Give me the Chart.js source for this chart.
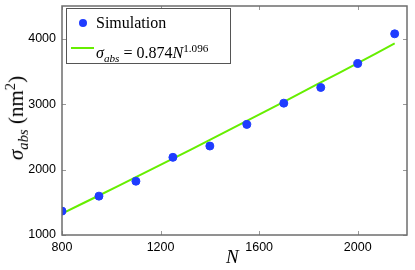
<!DOCTYPE html>
<html>
<head>
<meta charset="utf-8">
<script src="https://cdn.jsdelivr.net/npm/chart.js@4/dist/chart.umd.min.js"></script>
<style>
  body { margin: 0; background: #fff; }
  #wrap { position: relative; width: 415px; height: 270px; }
  #chart { position: absolute; left: 0; top: 0; }
  .serif { font-family: "Liberation Serif", "DejaVu Serif", serif; }
  #legend {
    position: absolute; left: 66px; top: 8px; width: 165px; height: 56px;
    border: 1px solid #555; background: #fff; box-sizing: border-box;
    font-size: 16px; color: #000;
  }
  #legend .row { position: absolute; left: 0; height: 20px; line-height: 20px; white-space: nowrap; }
  #legend .dot { position: absolute; left: 12px; top: 6px; width: 8px; height: 8px; border-radius: 50%; background: #1f3cff; }
  #legend .line { position: absolute; left: 4px; top: 9px; width: 23px; height: 2px; background: #66ee00; }
  #legend .txt { position: absolute; left: 29px; top: 0; }
  #ytitle {
    position: absolute; left: 17px; top: 118px; transform: translate(-50%, -50%) rotate(-90deg);
    font-size: 21px; white-space: nowrap;
  }
  #xtitle { position: absolute; left: 226px; top: 246px; font-size: 19px; font-style: italic; }
  sub, sup { font-size: 70%; }
</style>
</head>
<body>
<div id="wrap">
  <canvas id="chart" width="415" height="270"></canvas>
  <div id="legend" class="serif">
    <div class="row" style="top:4px"><span class="dot"></span><span class="txt">Simulation</span></div>
    <div class="row" style="top:29px"><span class="line"></span><span class="txt"><i>σ<sub>abs</sub></i> = 0.874<i>N</i><sup>1.096</sup></span></div>
  </div>
  <div id="ytitle" class="serif"><i>σ<sub>abs</sub></i> (nm<sup>2</sup>)</div>
  <div id="xtitle" class="serif">N</div>
</div>
<script>
// data
const nValues = [800, 950, 1100, 1250, 1400, 1550, 1700, 1850, 2000, 2150];
const simValues = [1365, 1594, 1822, 2187, 2360, 2690, 3015, 3255, 3620, 4075];
const fitValues = [1328, 1604, 1883, 2167, 2454, 2744, 3036, 3331, 3628, 3927];
const xTicks = [800, 1200, 1600, 2000];
const yTicks = [1000, 2000, 3000, 4000];

document.addEventListener('DOMContentLoaded', function() {
    const frameColor = '#6e6e6e';

    // inward ticks on all four sides plus the box
    const frameTicks = {
        id: 'frameTicks',
        afterDatasetsDraw(chart) {
            const { ctx, chartArea: a, scales } = chart;
            ctx.save();
            ctx.strokeStyle = '#999';
            ctx.lineWidth = 1;
            const len = 4;
            xTicks.forEach(v => {
                const x = Math.round(scales.x.getPixelForValue(v)) + 0.5;
                ctx.beginPath();
                ctx.moveTo(x, a.bottom); ctx.lineTo(x, a.bottom - len);
                ctx.moveTo(x, a.top); ctx.lineTo(x, a.top + len);
                ctx.stroke();
            });
            yTicks.forEach(v => {
                const y = Math.round(scales.y.getPixelForValue(v)) + 0.5;
                ctx.beginPath();
                ctx.moveTo(a.left, y); ctx.lineTo(a.left + len, y);
                ctx.moveTo(a.right, y); ctx.lineTo(a.right - len, y);
                ctx.stroke();
            });
            ctx.strokeStyle = frameColor;
            ctx.lineWidth = 1.5;
            ctx.strokeRect(a.left, a.top, a.right - a.left, a.bottom - a.top);
            ctx.restore();
        }
    };

    const ctx = document.getElementById('chart').getContext('2d');
    new Chart(ctx, {
        type: 'scatter',
        data: {
            datasets: [{
                label: 'Fit',
                type: 'line',
                data: nValues.map((n, i) => ({ x: n, y: fitValues[i] })),
                borderColor: '#66ee00',
                borderWidth: 2,
                pointRadius: 0,
                tension: 0.4,
                order: 2
            }, {
                label: 'Simulation',
                data: nValues.map((n, i) => ({ x: n, y: simValues[i] })),
                backgroundColor: '#1f3cff',
                borderColor: '#1f3cff',
                pointRadius: 4,
                order: 1
            }]
        },
        options: {
            responsive: false,
            animation: false,
            layout: { padding: { top: 6, right: 8, left: 0, bottom: 0 } },
            plugins: { legend: { display: false }, tooltip: { enabled: false } },
            scales: {
                x: {
                    type: 'linear',
                    min: 800,
                    max: 2200,
                    afterBuildTicks: s => { s.ticks = xTicks.map(v => ({ value: v })); },
                    afterFit: s => { s.height = 35; s.paddingLeft = 0; s.paddingRight = 0; },
                    grid: { display: false, drawTicks: false },
                    border: { display: false },
                    ticks: {
                        color: '#000',
                        font: { family: 'Liberation Sans', size: 12.5 },
                        padding: 5,
                        maxRotation: 0,
                        callback: v => String(v)
                    }
                },
                y: {
                    min: 1000,
                    max: 4500,
                    afterBuildTicks: s => { s.ticks = yTicks.map(v => ({ value: v })); },
                    afterFit: s => { s.width = 62; s.paddingTop = 0; s.paddingBottom = 0; },
                    grid: { display: false, drawTicks: false },
                    border: { display: false },
                    ticks: {
                        color: '#000',
                        font: { family: 'Liberation Sans', size: 12.5 },
                        padding: 6,
                        callback: v => String(v)
                    }
                }
            }
        },
        plugins: [frameTicks]
    });
});
</script>
</body>
</html>
